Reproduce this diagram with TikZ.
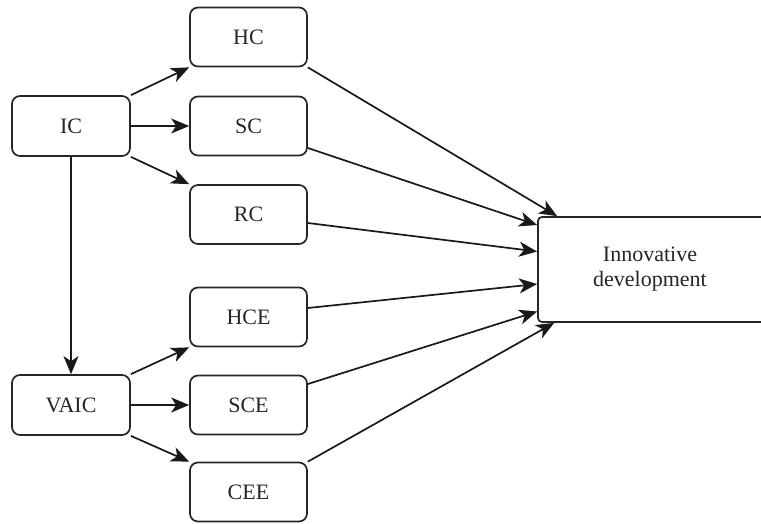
\documentclass[tikz,border=0pt]{standalone}
\usepackage{fontspec}
\setmainfont{Liberation Serif}
\usetikzlibrary{arrows.meta}
\begin{document}
\begin{tikzpicture}[x=1pt,y=-1pt,
  box/.style={draw=black!85, line width=1.7pt, rounded corners=8pt, minimum width=117pt, minimum height=59pt, inner sep=0pt, font=\fontsize{22}{25}\selectfont, text=black!85},
  bigbox/.style={draw=black!85, line width=1.7pt, rounded corners=4pt, minimum width=225pt, minimum height=105pt, inner sep=0pt, align=center, font=\fontsize{22}{25}\selectfont, text=black!85},
  arr/.style={draw=black!90, line width=1.7pt, -{Stealth[length=18pt,width=15pt,inset=5pt]}}]
\useasboundingbox (0,0) rectangle (761,524);
\node[box, minimum width=118pt, minimum height=60pt] (ic) at (71,126) {IC};
\node[box, minimum width=118pt, minimum height=60pt] (vaic) at (71,405) {VAIC};
\node[box] (hc) at (248.5,37) {HC};
\node[box] (sc) at (248.5,126) {SC};
\node[box] (rc) at (248.5,214.5) {RC};
\node[box] (hce) at (248.5,317) {HCE};
\node[box] (sce) at (248.5,405) {SCE};
\node[box] (cee) at (248.5,492) {CEE};
\node[bigbox, minimum width=240pt, text width=225pt] (inn) at (658,269.5) {};
\node[font=\fontsize{22}{25}\selectfont, text=black!85, align=center] (innt) at (650,269.5) {Innovative\\development};
\draw[arr] (ic.north east) -- (hc.south west);
\draw[arr] (ic.east) -- (sc.west);
\draw[arr] (ic.south east) -- (rc.north west);
\draw[arr] (ic.south) -- (vaic.north);
\draw[arr] (vaic.north east) -- (hce.south west);
\draw[arr] (vaic.east) -- (sce.west);
\draw[arr] (vaic.south east) -- (cee.north west);
\draw[arr] (hc.south east) -- ([xshift=20pt]inn.north west);
\draw[arr] ([yshift=-22pt]sc.east) -- ([yshift=44.5pt]inn.west);
\draw[arr] ([yshift=-8.5pt]rc.east) -- ([yshift=18pt]inn.west);
\draw[arr] ([yshift=9pt]hce.east) -- ([yshift=-14.5pt]inn.west);
\draw[arr] ([yshift=21pt]sce.east) -- ([yshift=-42pt]inn.west);
\draw[arr] (cee.north east) -- ([xshift=17pt]inn.south west);
\end{tikzpicture}
\end{document}
